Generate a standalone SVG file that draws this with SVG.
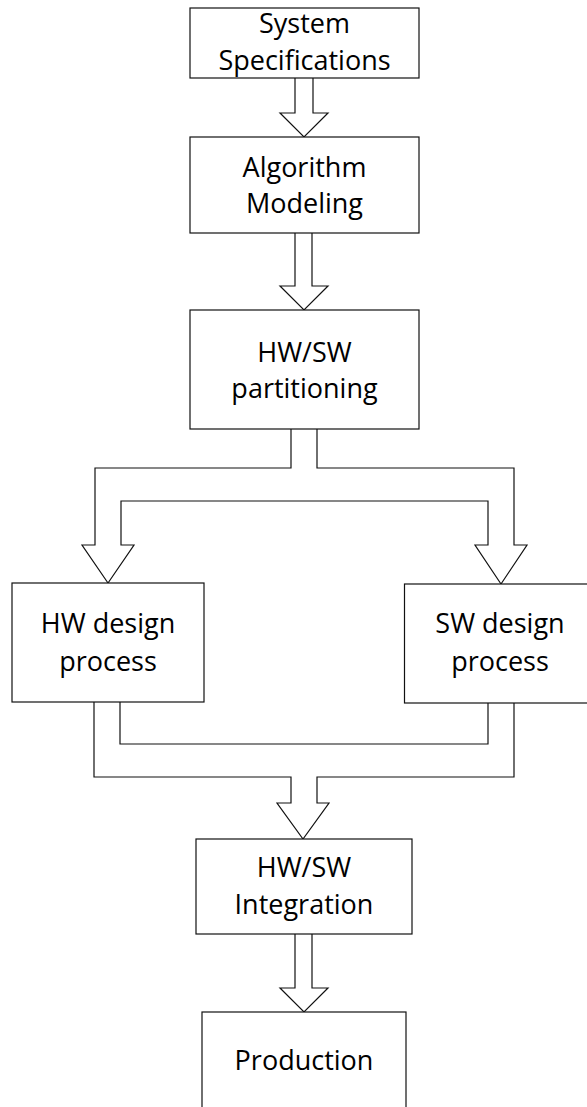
<svg xmlns="http://www.w3.org/2000/svg" width="587" height="1107" viewBox="0 0 587 1107">
  <style>
    .box { fill: #ffffff; stroke: #111111; stroke-width: 1.2; }
    .flow { fill: #ffffff; stroke: #111111; stroke-width: 1.2; stroke-linejoin: miter; }
    .label { font-family: "Open Sans", "Liberation Sans", sans-serif; font-size: 27px; fill: #000000; text-anchor: middle; }
  </style>
  <rect width="587" height="1107" fill="#ffffff"/>

  <!-- block arrows between stages -->
  <g id="connectors">
    <path class="flow" d="M295,78 V113 H280 L304,137 L328,113 H313 V78"/>
    <path class="flow" d="M295,233 V286 H280 L304,310 L328,286 H312 V233"/>
    <path class="flow" d="M291,429 V468 H95 V545 H82 L108,583 L134,545 H121 V501 H488 V545 H475 L501,584 L527,545 H514 V468 H317 V429"/>
    <path class="flow" d="M94,702 V777 H291 V803 H277 L303,839 L329,803 H317 V777 H514 V703 M120,702 V744 H488 V703"/>
    <path class="flow" d="M295,934 V988 H280 L304,1012 L328,988 H312 V934"/>
  </g>

  <g id="system-specifications">
    <rect class="box" x="190" y="8" width="229" height="70"/>
    <text class="label" x="304.5" y="33">System</text>
    <text class="label" x="304.5" y="70">Specifications</text>
  </g>

  <g id="algorithm-modeling">
    <rect class="box" x="190" y="137" width="229" height="96"/>
    <text class="label" x="304.5" y="177">Algorithm</text>
    <text class="label" x="304.5" y="213">Modeling</text>
  </g>

  <g id="hw-sw-partitioning">
    <rect class="box" x="190" y="310" width="229" height="119"/>
    <text class="label" x="304.5" y="362">HW/SW</text>
    <text class="label" x="304.5" y="398">partitioning</text>
  </g>

  <g id="hw-design">
    <rect class="box" x="12" y="583" width="192" height="119"/>
    <text class="label" x="108" y="633">HW design</text>
    <text class="label" x="108" y="671">process</text>
  </g>

  <g id="sw-design">
    <rect class="box" x="404.5" y="584" width="200" height="119"/>
    <text class="label" x="500" y="633">SW design</text>
    <text class="label" x="500" y="671">process</text>
  </g>

  <g id="hw-sw-integration">
    <rect class="box" x="196" y="839" width="216" height="95"/>
    <text class="label" x="304" y="877">HW/SW</text>
    <text class="label" x="304" y="914">Integration</text>
  </g>

  <g id="production">
    <rect class="box" x="202" y="1012" width="204" height="120"/>
    <text class="label" x="304" y="1070">Production</text>
  </g>
</svg>
